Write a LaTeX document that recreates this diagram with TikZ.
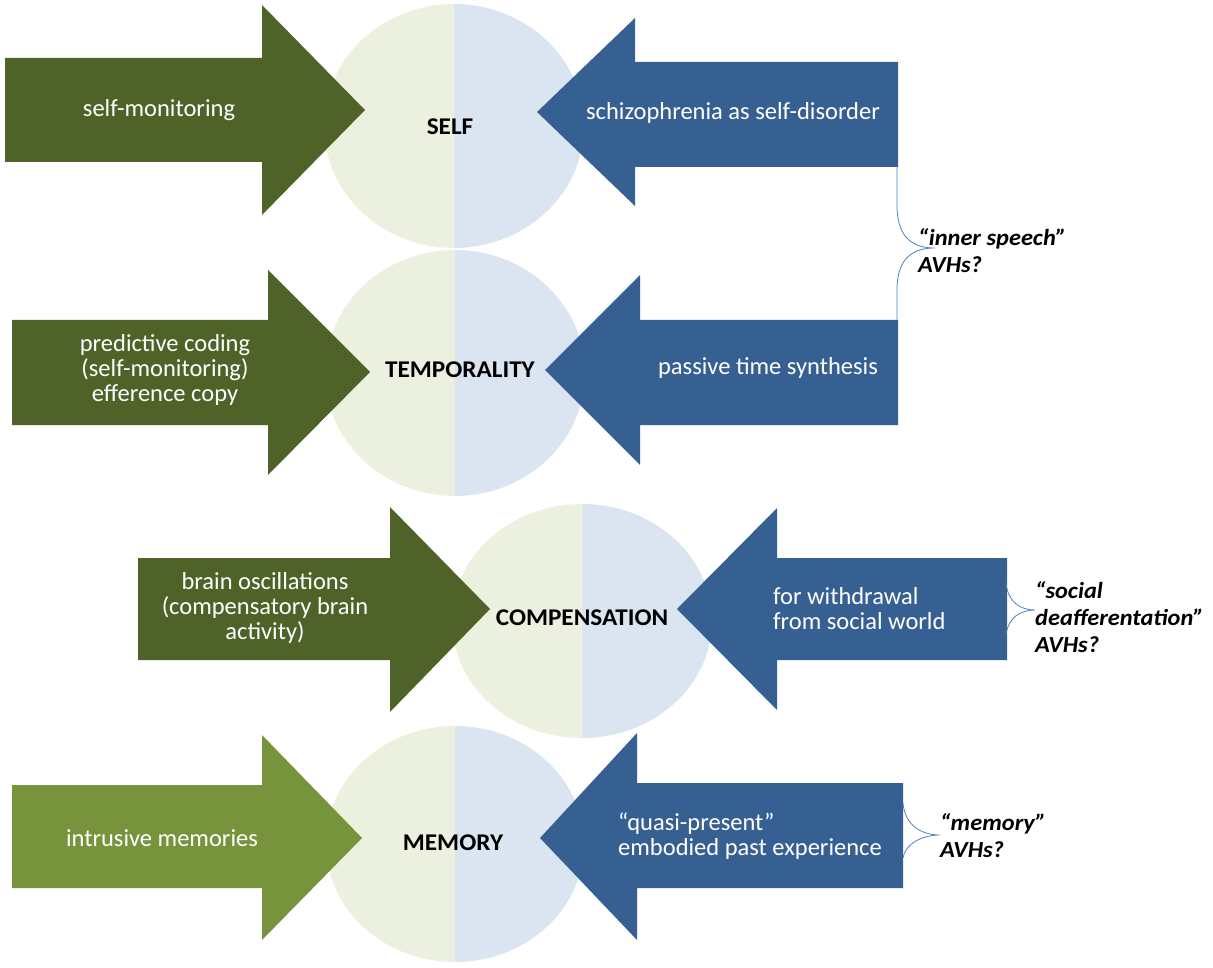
\documentclass[tikz,border=0pt]{standalone}
\usepackage{fontspec}
\setmainfont{Carlito}
\newfontfamily\labelfont[FakeStretch=1.05]{Carlito}
\newfontfamily\remarkfont[FakeStretch=1.06]{Carlito}
\begin{document}
\begin{tikzpicture}[x=1pt,y=-1pt]
\definecolor{leafgreen}{HTML}{4F6228}
\definecolor{oliveLight}{HTML}{77933C}
\definecolor{steelblue}{HTML}{376092}
\definecolor{paleGreen}{HTML}{EBF1DE}
\definecolor{paleBlue}{HTML}{DBE5F1}
\definecolor{braceBlue}{HTML}{4F81BD}
\tikzset{
  intext/.style={text=white,font=\fontsize{24.5}{25}\selectfont,align=center},
  intextleft/.style={intext,align=left,anchor=west,inner sep=0pt},
  topic/.style={font=\labelfont\fontsize{24}{26}\selectfont\bfseries},
  remark/.style={font=\remarkfont\fontsize{23}{27}\selectfont\bfseries\itshape,align=left,anchor=west,inner sep=0pt},
  bracket/.style={draw=braceBlue,line width=0.8pt}
}
\useasboundingbox (0,0) rectangle (1213,968);
% split discs: centre x, centre y, x radius, y radius
\newcommand{\splitdisc}[4]{%
  \begin{scope}
    \clip (#1-#3-1,#2-#4-1) rectangle (#1,#2+#4+1);
    \fill[paleGreen] (#1,#2) ellipse [x radius=#3, y radius=#4];
  \end{scope}
  \begin{scope}
    \clip (#1,#2-#4-1) rectangle (#1+#3+1,#2+#4+1);
    \fill[paleBlue] (#1,#2) ellipse [x radius=#3, y radius=#4];
  \end{scope}}
\splitdisc{454}{126}{130}{122}
\splitdisc{455}{373}{130}{123}
\splitdisc{582}{621}{130}{117}
\splitdisc{455}{844}{129}{118}
% right-pointing arrows: x0, shaft top, shaft bottom, head base, head top, head bottom, tip x, tip y
\newcommand{\rarrow}[9][leafgreen]{%
  \fill[#1] (#2,#3) -- (#5,#3) -- (#5,#6) -- (#8,#9) -- (#5,#7) -- (#5,#4) -- (#2,#4) -- cycle;}
% left-pointing arrows: x0 (right end), shaft top, shaft bottom, head base, head top, head bottom, tip x, tip y
\newcommand{\larrow}[8]{%
  \fill[steelblue] (#1,#2) -- (#4,#2) -- (#4,#5) -- (#7,#8) -- (#4,#6) -- (#4,#3) -- (#1,#3) -- cycle;}
% row 1
\rarrow{5}{58}{162}{262}{5}{215}{365}{110}
\larrow{898}{62}{167}{635}{18}{206}{537}{112}
% row 2
\rarrow{12}{320}{425}{268}{270}{475}{370}{372}
\larrow{898}{320}{425}{640}{275}{465}{545}{370}
% row 3
\rarrow{138}{558}{660}{390}{507}{712}{490}{609}
\larrow{1007}{558}{660}{777}{508}{710}{677}{609}
% row 4
\rarrow[oliveLight]{12}{785}{888}{262}{735}{940}{362}{838}
\larrow{903}{783}{888}{637}{733}{940}{540}{838}

% labels
\node[topic] (self) at (450,127) {SELF};
\node[topic] (temp) at (460,370) {TEMPORALITY};
\node[topic] (comp) at (582,618) {COMPENSATION};
\node[topic] (mem) at (453,843) {MEMORY};

\node[intext] (t1l) at (159,110) {self-monitoring};
\node[intext] (t1r) at (733,113) {schizophrenia as self-disorder};
\node[intext] (t2l) at (165,370) {predictive coding\\(self-monitoring)\\efference copy};
\node[intext] (t2r) at (768,368) {passive time synthesis};
\node[intext] (t3l) at (265,608) {brain oscillations\\(compensatory brain\\activity)};
\node[intextleft] (t3r) at (773,609) {for withdrawal\\from social world};
\node[intext] (t4l) at (162,838) {intrusive memories};
\node[intextleft] (t4r) at (618,836) {“quasi-present”\\embodied past experience};

% braces with remarks
\coordinate (b1a) at (897,167);
\coordinate (b1b) at (897,320);
\coordinate (b1t) at (935,248);
\draw[bracket] (b1a) -- (897,205) .. controls (897,240) and (915,248) .. (b1t)
  .. controls (915,248) and (897,256) .. (897,290) -- (b1b);
\node[remark] (r1) at (918,251) {“inner speech”\\AVHs?};

\coordinate (b3a) at (1006,583);
\coordinate (b3b) at (1006,635);
\coordinate (b3t) at (1035,610);
\draw[bracket] (b3a) .. controls (1008,602) and (1020,610) .. (b3t)
  .. controls (1020,610) and (1008,618) .. (b3b);
\node[remark] (r3) at (1035,617) {“social\\deafferentation”\\AVHs?};

\coordinate (b4a) at (903,803);
\coordinate (b4b) at (903,858);
\coordinate (b4t) at (940,835);
\draw[bracket] (b4a) .. controls (905,826) and (922,835) .. (b4t)
  .. controls (922,835) and (905,844) .. (b4b);
\node[remark] (r4) at (940,836) {“memory”\\AVHs?};
\end{tikzpicture}
\end{document}
